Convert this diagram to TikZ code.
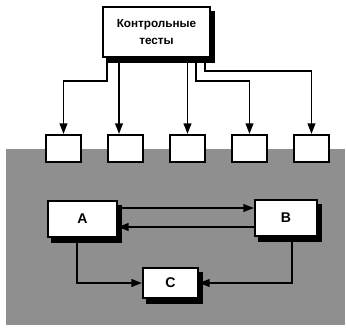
\documentclass[tikz,border=0pt]{standalone}
\usepackage{fontspec}
\setmainfont{Liberation Sans}
\usetikzlibrary{arrows.meta, positioning, backgrounds}
\tikzset{
  box/.style={rectangle,draw,fill=white,line width=1.7pt,align=center,inner sep=2pt},
  testbox/.style={rectangle,draw,fill=white,line width=1.7pt,minimum width=10.5mm,minimum height=8.1mm},
  line/.style={-{Triangle[length=3.2mm,width=2.3mm]},line width=1.6pt}
}

\begin{document}
\begin{tikzpicture}[x=0.3mm,y=-0.3mm]
\useasboundingbox (0,0) rectangle (346,329);
\node[box,minimum width=32.1mm,minimum height=15mm,font=\bfseries\fontsize{10}{14.5}\selectfont] (kt) at (156.5,32) {Контрольные\\тесты};
\node[testbox] (t1) at (63.5,148.5) {};
\node[testbox, right=7.5mm of t1] (t2) {};
\node[testbox, right=7.5mm of t2] (t3) {};
\node[testbox, right=7.5mm of t3] (t4) {};
\node[testbox, right=7.5mm of t4] (t5) {};
\draw[line] ([xshift=1.5mm]kt.south west) -- ++(0,23) -| (t1);
\draw[line] ([xshift=5.1mm]kt.south west) -- ([xshift=5.1mm]kt.south west |- t2.north);
\draw[line] (kt.south -| t3) -- (t3);
\draw[line] ([xshift=-4.5mm]kt.south east) -- ++(0,23) -| (t4);
\draw[line] ([xshift=-1.8mm]kt.south east) -- ++(0,13) -| (t5);
\node[box,minimum width=20.7mm,minimum height=10.8mm,font=\bfseries\large] (a) at (82.5,219) {A};
\node[box,minimum width=18.6mm,minimum height=10.8mm,font=\bfseries\large] (b) at (286,218) {B};
\node[box,minimum width=16.5mm,minimum height=9mm,font=\bfseries\large] (c) at (170.5,283) {C};
\draw[line] ([yshift=3.3mm]a.east) -- ([yshift=3.3mm]a.east -| b.west);
\draw[line] ([yshift=-2.7mm]b.west) -- ([yshift=-2.7mm]b.west -| a.east);
\draw[line] ([xshift=-1.6mm]a.south) |- (c);
\draw[line] ([xshift=1.8mm]b.south) |- (c);
% ground and shadows
\begin{scope}[on background layer]
\fill[black!44] (6,149) rectangle (345,325);
\foreach \n in {kt,a,b,c}
  \fill ([xshift=1.3mm,yshift=-1.5mm]\n.south west) rectangle ([xshift=1.3mm,yshift=-1.5mm]\n.north east);
\end{scope}
\end{tikzpicture}
\end{document}
